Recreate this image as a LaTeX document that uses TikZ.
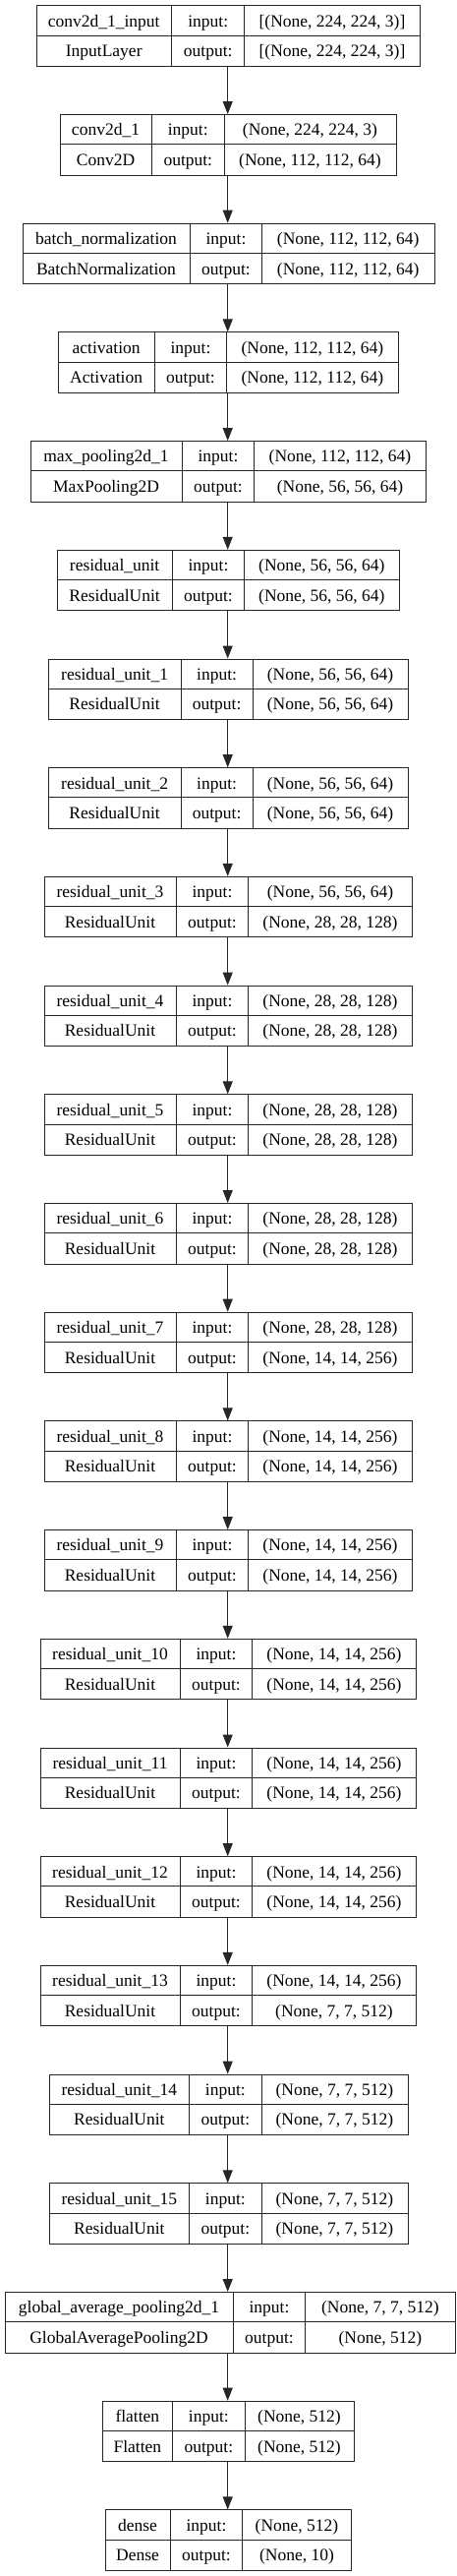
\documentclass[tikz,border=0pt]{standalone}
\usepackage{fontspec}
\setmainfont{Liberation Serif}
\usetikzlibrary{arrows.meta}
\tikzset{
  layer/.style={draw=black!85, line width=1pt, inner sep=0pt, anchor=north west},
  cell/.style={inner sep=0pt, anchor=base, font=\fontsize{17.5}{20}\selectfont},
  arr/.style={draw=black!85, line width=1pt, -{Triangle[length=13pt,width=10pt]}},
  sepline/.style={draw=black!85, line width=1pt}
}
\newcommand{\layerbox}[9]{%
  \pgfmathsetmacro{\tp}{5.3+#1*110.7}%
  \node[layer, minimum width={(#5-#2)*1pt}, minimum height=61.5pt] (b#1) at (#2,\tp) {};
  \draw[sepline] (#2,\tp+30.75) -- (#5,\tp+30.75);
  \draw[sepline] (#3,\tp) -- (#3,\tp+61.5);
  \draw[sepline] (#4,\tp) -- (#4,\tp+61.5);
  \node[cell] (b#1n) at ({(#2+#3)/2},\tp+21.8) {#6};
  \node[cell] (b#1c) at ({(#2+#3)/2},\tp+52.3) {#7};
  \node[cell] (b#1i) at ({(#3+#4)/2},\tp+21.8) {input:};
  \node[cell] (b#1o) at ({(#3+#4)/2},\tp+52.3) {output:};
  \node[cell] (b#1s) at ({(#4+#5)/2},\tp+21.8) {#8};
  \node[cell] (b#1t) at ({(#4+#5)/2},\tp+52.3) {#9};
}
\begin{document}
\begin{tikzpicture}[x=1pt,y=-1pt]
\useasboundingbox[fill=white] (0,0) rectangle (464,2619);
\coordinate (ax) at (231.7,0);
\layerbox{0}{36.7}{174.7}{248.7}{427.3}{conv2d\_1\_input}{InputLayer}{[(None, 224, 224, 3)]}{[(None, 224, 224, 3)]}
\layerbox{1}{60.7}{154.3}{228.3}{402.7}{conv2d\_1}{Conv2D}{(None, 224, 224, 3)}{(None, 112, 112, 64)}
\layerbox{2}{22.7}{193.3}{266.7}{441.7}{batch\_normalization}{BatchNormalization}{(None, 112, 112, 64)}{(None, 112, 112, 64)}
\layerbox{3}{59}{157.3}{230.7}{405}{activation}{Activation}{(None, 112, 112, 64)}{(None, 112, 112, 64)}
\layerbox{4}{30.7}{185.3}{258.7}{433.3}{max\_pooling2d\_1}{MaxPooling2D}{(None, 112, 112, 64)}{(None, 56, 56, 64)}
\layerbox{5}{58}{175.3}{248.7}{406}{residual\_unit}{ResidualUnit}{(None, 56, 56, 64)}{(None, 56, 56, 64)}
\layerbox{6}{49.3}{184}{257.3}{414.7}{residual\_unit\_1}{ResidualUnit}{(None, 56, 56, 64)}{(None, 56, 56, 64)}
\layerbox{7}{49.3}{184}{257.3}{414.7}{residual\_unit\_2}{ResidualUnit}{(None, 56, 56, 64)}{(None, 56, 56, 64)}
\layerbox{8}{44.7}{179.3}{252.7}{419.3}{residual\_unit\_3}{ResidualUnit}{(None, 56, 56, 64)}{(None, 28, 28, 128)}
\layerbox{9}{44.7}{179.3}{252.7}{419.3}{residual\_unit\_4}{ResidualUnit}{(None, 28, 28, 128)}{(None, 28, 28, 128)}
\layerbox{10}{44.7}{179.3}{252.7}{419.3}{residual\_unit\_5}{ResidualUnit}{(None, 28, 28, 128)}{(None, 28, 28, 128)}
\layerbox{11}{44.7}{179.3}{252.7}{419.3}{residual\_unit\_6}{ResidualUnit}{(None, 28, 28, 128)}{(None, 28, 28, 128)}
\layerbox{12}{44.7}{179.3}{252.7}{419.3}{residual\_unit\_7}{ResidualUnit}{(None, 28, 28, 128)}{(None, 14, 14, 256)}
\layerbox{13}{44.7}{179.3}{252.7}{419.3}{residual\_unit\_8}{ResidualUnit}{(None, 14, 14, 256)}{(None, 14, 14, 256)}
\layerbox{14}{44.7}{179.3}{252.7}{419.3}{residual\_unit\_9}{ResidualUnit}{(None, 14, 14, 256)}{(None, 14, 14, 256)}
\layerbox{15}{40.7}{183.3}{256.7}{423.3}{residual\_unit\_10}{ResidualUnit}{(None, 14, 14, 256)}{(None, 14, 14, 256)}
\layerbox{16}{40.7}{183.3}{256.7}{423.3}{residual\_unit\_11}{ResidualUnit}{(None, 14, 14, 256)}{(None, 14, 14, 256)}
\layerbox{17}{40.7}{183.3}{256.7}{423.3}{residual\_unit\_12}{ResidualUnit}{(None, 14, 14, 256)}{(None, 14, 14, 256)}
\layerbox{18}{40.7}{183.3}{256.7}{423.3}{residual\_unit\_13}{ResidualUnit}{(None, 14, 14, 256)}{(None, 7, 7, 512)}
\layerbox{19}{50}{192.7}{266}{414.7}{residual\_unit\_14}{ResidualUnit}{(None, 7, 7, 512)}{(None, 7, 7, 512)}
\layerbox{20}{50}{192.7}{266}{414.7}{residual\_unit\_15}{ResidualUnit}{(None, 7, 7, 512)}{(None, 7, 7, 512)}
\layerbox{21}{4.7}{237.3}{310.7}{463}{global\_average\_pooling2d\_1}{GlobalAveragePooling2D}{(None, 7, 7, 512)}{(None, 512)}
\layerbox{22}{104}{175.7}{249}{360}{flatten}{Flatten}{(None, 512)}{(None, 512)}
\layerbox{23}{106.7}{173.3}{246.7}{357.3}{dense}{Dense}{(None, 512)}{(None, 10)}
\foreach \i in {0,...,22}{
  \pgfmathtruncatemacro{\j}{\i+1}
  \draw[arr] (ax |- b\i.south) -- (ax |- b\j.north);
}
\end{tikzpicture}
\end{document}
